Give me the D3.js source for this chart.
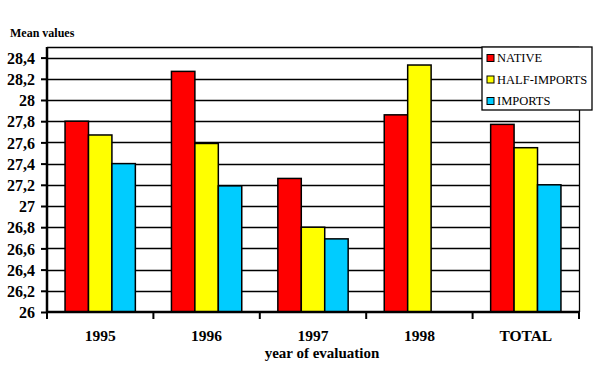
<!DOCTYPE html>
<html>
<head>
<meta charset="utf-8">
<script src="https://cdn.jsdelivr.net/npm/d3@7"></script>
<style>
  html, body { margin: 0; padding: 0; background: #fff; }
  svg { display: block; }
</style>
</head>
<body>
<svg id="chart" width="615" height="379"></svg>
<script>
const categories = ["1995", "1996", "1997", "1998", "TOTAL"];
const seriesNames = ["NATIVE", "HALF-IMPORTS", "IMPORTS"];
const native = [27.80, 28.27, 27.26, 27.86, 27.77];
const halfImports = [27.67, 27.59, 26.80, 28.33, 27.55];
const imports = [27.40, 27.19, 26.69, null, 27.20];
const colors = ["#ff0000", "#ffff00", "#00ccff"];
const yTicks = [26, 26.2, 26.4, 26.6, 26.8, 27, 27.2, 27.4, 27.6, 27.8, 28, 28.2, 28.4];
const yTitle = "Mean values";
const xTitle = "year of evaluation";

const FONT = "'Liberation Serif', 'Times New Roman', serif";
const values = [native, halfImports, imports];
const svg = d3.select("#chart");
const pL = 47, pR = 579, pT = 47, pB = 312;

const x = d3.scaleBand().domain(categories).range([pL, pR]).paddingInner(0).paddingOuter(0);
const xs = d3.scaleBand().domain(seriesNames).range([0, x.bandwidth()]).paddingInner(0).paddingOuter(0.77);
const y = d3.scaleLinear().domain([26, 28.5]).range([pB, pT]);
const fmt = v => d3.format("~g")(+v.toFixed(1)).replace(".", ",");

// gridlines
svg.append("g").selectAll("line").data(yTicks.filter(t => t > 26)).join("line")
  .attr("x1", pL).attr("x2", pR)
  .attr("y1", d => Math.round(y(d)) + 0.5).attr("y2", d => Math.round(y(d)) + 0.5)
  .attr("stroke", "#000").attr("stroke-width", 1.3);

// plot frame top & right
svg.append("line").attr("x1", pL).attr("x2", pR).attr("y1", pT + 0.5).attr("y2", pT + 0.5).attr("stroke", "#000").attr("stroke-width", 1.3);
svg.append("line").attr("x1", pR + 0.5).attr("x2", pR + 0.5).attr("y1", pT).attr("y2", pB).attr("stroke", "#000").attr("stroke-width", 1.3);

// bars
const data = [];
categories.forEach((c, i) => seriesNames.forEach((s, j) => {
  if (values[j][i] != null) data.push({ c, s, v: values[j][i], j });
}));
svg.append("g").selectAll("rect").data(data).join("rect")
  .attr("x", d => x(d.c) + xs(d.s))
  .attr("y", d => y(d.v))
  .attr("width", xs.bandwidth())
  .attr("height", d => y(26) - y(d.v))
  .attr("fill", d => colors[d.j])
  .attr("stroke", "#000").attr("stroke-width", 1.5);

// y axis
const yAxis = svg.append("g").attr("transform", `translate(${pL},0)`)
  .call(d3.axisLeft(y).tickValues(yTicks).tickSize(6).tickSizeOuter(0).tickFormat(fmt));
yAxis.attr("font-family", FONT);
yAxis.select(".domain").attr("stroke-width", 2.5).attr("d", `M0,${pT}V${pB}`);
yAxis.selectAll(".tick line").attr("stroke-width", 2);
yAxis.selectAll(".tick text").attr("x", -12).attr("dy", "0.35em")
  .style("font-family", FONT).style("font-size", "16px").style("font-weight", "bold").attr("fill", "#000");

// x axis
const xAxis = svg.append("g").attr("transform", `translate(0,${pB})`)
  .call(d3.axisBottom(x).tickSize(0).tickSizeOuter(0));
xAxis.attr("font-family", FONT);
xAxis.select(".domain").attr("stroke-width", 2.5).attr("d", `M${pL},0H${pR}`);
xAxis.selectAll(".tick text").attr("y", 29).attr("dy", 0)
  .style("font-family", FONT).style("font-size", "15.5px").style("font-weight", "bold").attr("fill", "#000");
const bounds = categories.map(c => x(c)).concat([pR]);
svg.append("g").selectAll("line").data(bounds).join("line")
  .attr("x1", d => d).attr("x2", d => d)
  .attr("y1", pB).attr("y2", pB + 7)
  .attr("stroke", "#000").attr("stroke-width", 2);

// titles
svg.append("text").attr("x", 10).attr("y", 37).text(yTitle)
  .style("font-family", FONT).style("font-size", "12px").style("font-weight", "bold");
svg.append("text").attr("x", 322).attr("y", 358).attr("text-anchor", "middle").text(xTitle)
  .style("font-family", FONT).style("font-size", "15px").style("font-weight", "bold");

// legend
const lg = svg.append("g").attr("transform", "translate(482,47)");
lg.append("rect").attr("x", 0).attr("y", 0).attr("width", 110).attr("height", 63)
  .attr("fill", "#fff").attr("stroke", "#000").attr("stroke-width", 1.3);
seriesNames.forEach((s, i) => {
  const g = lg.append("g").attr("transform", `translate(5,${11 + i * 21.5})`);
  g.append("rect").attr("x", 0).attr("y", -3.5).attr("width", 7).attr("height", 7)
    .attr("fill", colors[i]).attr("stroke", "#000").attr("stroke-width", 1);
  g.append("text").attr("x", 10).attr("y", 0).attr("dy", "0.35em").text(s)
    .style("font-family", FONT).style("font-size", "12.5px").attr("fill", "#000");
});
</script>
</body>
</html>
